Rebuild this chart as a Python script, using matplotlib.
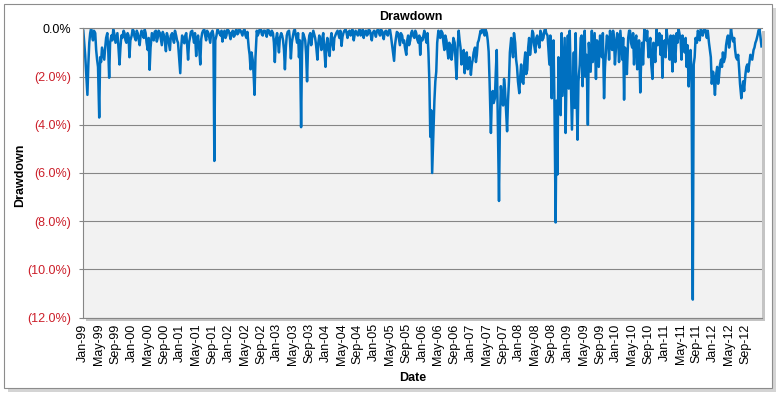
import numpy as np
import pandas as pd
import matplotlib
matplotlib.use("Agg")
import matplotlib.pyplot as plt
import matplotlib.dates as mdates
from matplotlib.patches import Rectangle
from matplotlib.ticker import FuncFormatter

plt.rcParams['font.family'] = ['Liberation Sans', 'DejaVu Sans']

# drawdown in percent, read on the 1st and 15th of each month
dd_1999 = [-0.1, -1.1, -2.76, -0.6, 0.0, -0.5, -0.2, -1.3, -3.7, -1.4, -1.1, -0.8,
           -0.2, -2.05, -0.3, -0.05, -0.6, -0.2, -1.5, -0.3, -0.1, -0.5, -0.2, -1.2]
dd_2000 = [-0.3, -0.1, -0.5, -0.2, -0.7, -0.1, -0.4, -0.2, -0.9, -1.72, -0.2, -0.5,
           -0.1, -0.4, -0.2, -0.7, -0.3, -0.95, -0.4, -0.9, -0.2, -0.6, -0.3, -0.6]
dd_2001 = [-1.86, -0.3, -0.62, -0.2, -1.3, -0.4, -0.1, -0.6, -1.15, -0.3, -1.5, -0.2,
           -0.05, -0.5, -0.2, -0.6, -0.1, -5.5, -0.3, -0.1, -0.3, -0.55, -0.1, -0.3]
dd_2002 = [-0.1, -0.45, -0.1, -0.3, -0.05, -0.2, -0.1, -0.3, -0.05, -0.4, -0.8, -1.7,
           -1.3, -2.76, -0.1, -0.2, -0.05, -0.3, -0.1, -0.35, -0.1, -0.3, -0.2, -1.4]
dd_2003 = [-0.2, -1.0, -0.2, -0.5, -1.7, -0.3, -0.1, -1.25, -0.3, -0.05, -0.6, -1.2,
           -4.1, -0.2, -0.5, -2.2, -0.3, -0.7, -0.1, -0.4, -1.3, -0.3, -0.9, -0.2]
dd_2004 = [-1.6, -0.4, -1.15, -0.2, -0.9, -0.3, -0.1, -0.4, -0.73, -0.2, -0.05, -0.4,
           -0.1, -0.2, -0.5, -0.1, -0.3, -0.05, -0.2, -0.4, -0.1, -0.25, -0.1, -0.5]
dd_2005 = [-0.1, -0.35, -0.05, -0.3, -0.1, -0.45, -0.1, -0.3, -0.05, -0.6, -1.35, -0.4,
           -0.2, -0.7, -0.3, -0.5, -1.1, -0.3, -0.5, -0.1, -0.4, -0.2, -0.6, -1.1]
dd_2006 = [-0.5, -0.1, -0.6, -1.0, -4.5, -6.0, -3.0, -1.8, -0.1, -0.4, -0.2, -0.9,
           -0.5, -1.25, -0.7, -1.0, -0.6, -2.1, -0.1, -0.8, -1.2, -1.86, -1.0, -1.5]
dd_2007 = [-1.93, -1.3, -0.8, -1.1, -0.5, -0.1, 0.0, -0.3, -0.2, -0.97, -4.34, -2.6,
           -2.9, -0.9, -7.16, -2.4, -3.2, -2.5, -4.27, -2.2, -0.4, -1.2, -0.6, -1.6]
dd_2008 = [-2.69, -1.5, -2.3, -1.0, -1.72, -0.4, -0.6, -0.2, -1.0, -0.3, -0.8, -0.2,
           -0.4, 0.0, -0.3, -1.5, -2.9, -0.5, -8.05, -6.06, -2.5, -0.2, -1.5, -4.34]
dd_2009 = [-0.3, -0.1, -4.2, -1.0, -0.2, -4.62, -1.5, -0.3, -0.6, -2.0, -4.0, -1.2,
           -0.1, -0.8, -2.1, -0.6, -0.3, -1.2, -2.9, -1.0, -0.4, -0.1, -0.9, -0.4]
dd_2010 = [-0.6, -0.45, -0.1, -1.3, -2.96, -1.0, -0.4, -0.1, -0.8, -1.5, -0.3, -1.2,
           -2.66, -0.6, 0.0, -0.5, -1.2, -0.4, -2.1, -0.8, -0.05, -0.6, -1.1, -2.05]
dd_2011 = [-0.5, -0.05, -0.7, -0.3, -1.79, -0.8, -0.2, 0.0, -0.5, -0.3, -1.0, -1.6,
           -2.41, -0.9, -11.25, -1.2, -0.6, -0.2, 0.0, -0.3, 0.0, -0.4, -0.6, -1.2]
dd_2012 = [-1.8, -2.76, -1.6, -2.0, -1.3, -1.0, -1.2, -0.45, -0.8, 0.0, -0.55, -0.9,
           -1.3, -1.65, -2.9, -2.2, -1.9, -1.5, -1.4, -1.2, -0.9, -0.6, -0.3, 0.0]

# readings a week after each of the above (8th and 22nd)
mid_1999 = [-0.6, -1.8, -1.5, -0.2, -0.3, -0.1, -0.9, -1.6, -1.2, -0.8, -1.3, -0.4,
            -0.9, -0.6, -0.5, -0.2, -0.4, -0.7, -0.8, -0.4, -0.2, -0.6, -0.3, -0.5]
mid_2000 = [-0.05, -0.35, -0.1, -0.45, -0.3, -0.25, -0.05, -0.6, -0.4, -0.8, -0.35, -0.15,
            -0.55, -0.1, -0.45, -0.15, -0.6, -0.2, -0.65, -0.3, -0.45, -0.1, -0.5, -1.1]
mid_2001 = [-0.8, -0.5, -0.3, -0.7, -0.6, -0.15, -0.35, -0.2, -0.5, -0.7, -0.45, -0.1,
            -0.3, -0.1, -0.4, -0.2, -0.3, -0.5, -0.05, -0.2, -0.1, -0.25, -0.4, -0.05]
mid_2002 = [-0.25, -0.2, -0.35, -0.1, -0.25, -0.05, -0.2, -0.1, -0.3, -0.15, -1.1, -1.0,
            -1.9, -1.2, -0.3, -0.05, -0.25, -0.1, -0.2, -0.05, -0.25, -0.1, -0.6, -0.5]
mid_2003 = [-0.6, -0.4, -0.3, -0.9, -0.8, -0.15, -0.5, -0.6, -0.1, -0.3, -0.2, -0.5,
            -1.0, -0.3, -1.1, -0.8, -0.2, -0.4, -0.25, -0.7, -0.6, -0.5, -0.4, -0.8]
mid_2004 = [-0.7, -0.8, -0.5, -0.6, -0.4, -0.2, -0.25, -0.1, -0.35, -0.1, -0.2, -0.15,
            -0.3, -0.05, -0.25, -0.2, -0.1, -0.3, -0.05, -0.15, -0.3, -0.05, -0.3, -0.2]
mid_2005 = [-0.2, -0.1, -0.2, -0.05, -0.3, -0.15, -0.25, -0.1, -0.3, -0.9, -0.7, -0.15,
            -0.45, -0.2, -0.6, -0.8, -0.5, -0.7, -0.2, -0.3, -0.1, -0.45, -0.3, -0.4]
mid_2006 = [-0.3, -0.35, -0.2, -2.2, -3.4, -4.8, -2.2, -0.6, -0.3, -0.1, -0.6, -0.3,
            -0.9, -0.6, -1.3, -0.4, -1.4, -0.9, -0.5, -1.5, -0.9, -1.3, -1.7, -1.2]
mid_2007 = [-1.5, -1.0, -1.4, -0.6, -0.3, -0.2, -0.1, -0.05, -0.5, -2.2, -2.9, -3.1,
            -1.8, -3.5, -3.8, -2.9, -2.1, -3.3, -3.0, -1.0, -0.9, -0.2, -1.3, -2.2]
mid_2008 = [-2.0, -2.2, -1.4, -1.9, -0.8, -1.1, -0.1, -0.7, -0.4, -0.6, -0.1, -0.5,
            -0.1, -0.2, -0.9, -0.3, -1.2, -3.1, -3.0, -1.2, -3.6, -2.8, -0.4, -2.0]
mid_2009 = [-2.5, -1.8, -2.6, -3.3, -2.8, -2.2, -0.4, -2.4, -0.1, -1.1, -0.6, -1.8,
            -1.4, -0.2, -0.5, -1.6, -0.7, -0.2, -1.6, -0.3, -1.3, -0.6, -0.1, -1.5]
mid_2010 = [-0.2, -1.4, -0.7, -0.4, -0.8, -1.9, -0.1, -0.6, -0.2, -0.5, -1.7, -0.5,
            -1.3, -1.5, -0.3, -0.1, -0.6, -1.5, -0.6, -1.4, -0.7, -0.2, -0.3, -0.6]
mid_2011 = [-1.2, -0.4, -1.3, -0.9, -0.3, -1.4, -0.6, -0.2, -1.3, -0.8, -0.4, -0.7,
            -1.5, -1.8, -1.5, -0.4, -0.1, -0.5, -0.2, -0.1, -0.2, -0.1, -0.9, -2.3]
mid_2012 = [-2.2, -2.0, -2.3, -1.5, -1.6, -1.4, -0.7, -0.3, -0.5, -0.3, -0.4, -1.2,
            -1.1, -2.3, -2.5, -2.6, -1.6, -1.8, -1.1, -1.3, -0.8, -0.5, -0.1, -0.3]

last_date = '2012-12-31'
last_value = -0.75

y_ticks = [0, -2, -4, -6, -8, -10, -12]

base = (dd_1999 + dd_2000 + dd_2001 + dd_2002 + dd_2003 + dd_2004 + dd_2005 + dd_2006
        + dd_2007 + dd_2008 + dd_2009 + dd_2010 + dd_2011 + dd_2012)
mid = (mid_1999 + mid_2000 + mid_2001 + mid_2002 + mid_2003 + mid_2004 + mid_2005
       + mid_2006 + mid_2007 + mid_2008 + mid_2009 + mid_2010 + mid_2011 + mid_2012)

base_dates = pd.date_range('1999-01-01', '2012-12-15', freq='SMS')
mid_dates = base_dates + pd.Timedelta(days=7)

n = len(base)
values = np.empty(2 * n)
values[0::2] = base
values[1::2] = mid
dates = np.empty(2 * n, dtype='datetime64[ns]')
dates[0::2] = base_dates.values
dates[1::2] = mid_dates.values

dates = np.append(dates, np.datetime64(last_date))
drawdown = np.append(values, last_value) / 100.0

W, H = 782, 398
fig = plt.figure(figsize=(W / 100, H / 100), dpi=100)

# chart frame with a soft shadow
fig.patches.append(Rectangle((8 / W, 1 - 392 / H), 768 / W, 384 / H, transform=fig.transFigure,
                             fc='#d4d4d4', ec='none', zorder=-3))
fig.patches.append(Rectangle((4 / W, 1 - 388 / H), 768 / W, 384 / H, transform=fig.transFigure,
                             fc='white', ec='#8c8c8c', lw=0.8, zorder=-2))

left, right, top, bottom = 83.3, 761.5, 28.3, 317.7
# plot area shadow
fig.patches.append(Rectangle(((left + 3) / W, 1 - (bottom + 3) / H), (right - left) / W,
                             (bottom - top) / H, transform=fig.transFigure,
                             fc='#c4c4c4', ec='none', zorder=-1))

ax = fig.add_axes([left / W, 1 - bottom / H, (right - left) / W, (bottom - top) / H])
ax.set_facecolor('#F2F2F2')

ax.plot(dates, drawdown, color='#0070C0', lw=1.8)

ax.set_xlim(dates[0], dates[-1])
ax.set_ylim(-0.12, 0)
ax.set_yticks(np.array(y_ticks) / 100.0)


def pct(v, pos):
    if abs(v) < 1e-9:
        return '0.0%'
    return '(%.1f%%)' % abs(v * 100)


ax.yaxis.set_major_formatter(FuncFormatter(pct))
ax.grid(axis='y', color='#868686', lw=0.8)
ax.set_axisbelow(True)

for s in ['left', 'bottom', 'top']:
    ax.spines[s].set_color('#868686')
    ax.spines[s].set_linewidth(0.8)
ax.spines['right'].set_visible(False)

ax.xaxis.set_major_locator(mdates.MonthLocator(bymonth=[1, 5, 9]))
ax.xaxis.set_major_formatter(mdates.DateFormatter('%b-%y'))
ax.tick_params(axis='x', length=0, pad=4, labelsize=9, rotation=90)
ax.tick_params(axis='y', length=3, width=0.8, color='#868686', pad=5.5, labelsize=9)

for lab in ax.get_yticklabels():
    if lab.get_text() != '0.0%':
        lab.set_color('#CC1F2A')

fig.text(411 / W, 1 - 17 / H, 'Drawdown', ha='center', va='center', fontsize=9, fontweight='bold')
fig.text(20 / W, 1 - 175 / H, 'Drawdown', ha='center', va='center', rotation=90,
         fontsize=9, fontweight='bold')
fig.text(413 / W, 1 - 378 / H, 'Date', ha='center', va='center', fontsize=9, fontweight='bold')

fig.savefig('out.png', dpi=100)
